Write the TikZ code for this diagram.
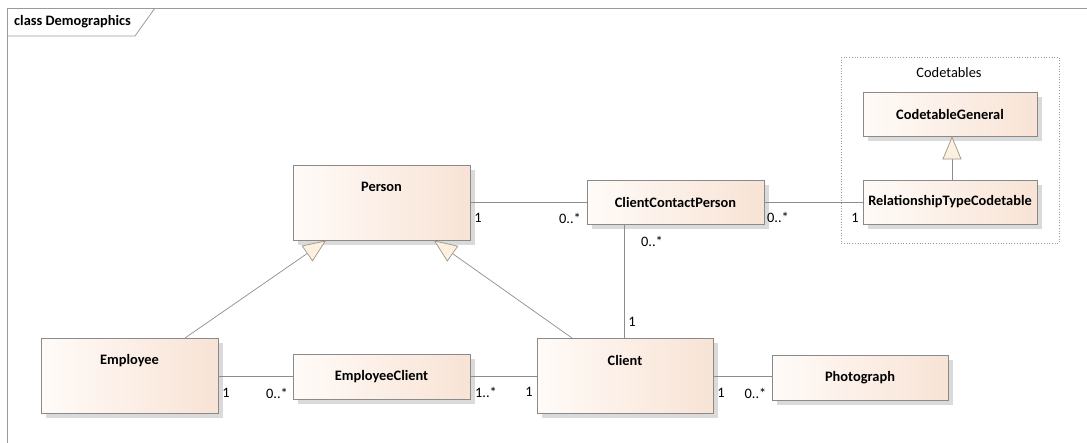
\documentclass[tikz,border=0pt]{standalone}
\usepackage{fontspec}
\setmainfont{Carlito}
\usetikzlibrary{shadows,arrows.meta}
\definecolor{frameg}{HTML}{9A9A9A}
\definecolor{lineg}{HTML}{8C8C8C}
\definecolor{boxb}{HTML}{8A8A8A}
\definecolor{peachL}{HTML}{FFFBF8}
\definecolor{peachR}{HTML}{F8E3D5}
\definecolor{shadc}{HTML}{DADADA}
\definecolor{trifill}{HTML}{FCF0E0}
\definecolor{tridraw}{HTML}{A09585}
\begin{document}
\begin{tikzpicture}[x=1pt,y=-1pt,
  cls/.style={draw=boxb, line width=0.8pt, left color=peachL, right color=peachR,
    drop shadow={shadow xshift=5pt, shadow yshift=-5pt, fill=shadc, opacity=1},
    inner sep=0pt, text=black},
  cname/.style={font=\bfseries\fontsize{14.4}{16}\selectfont, inner sep=0pt},
  mult/.style={font=\fontsize{14.4}{16}\selectfont, inner sep=0pt},
  conn/.style={draw=lineg, line width=0.7pt},
  gen/.style={conn, -{Triangle[length=23pt, width=19pt, fill=trifill, color=tridraw]}}
]
\useasboundingbox (0,0) rectangle (1087,442);
% frame
\draw[frameg, line width=0.8pt] (7,450) -- (7,8) -- (1095,8);
\draw[frameg, line width=0.8pt] (7,36) -- (135,36) -- (155,8);
\node[cname, anchor=west] (title) at (14,22) {class Demographics};
% codetables package
\draw[frameg, line width=0.7pt, dotted] (841,57) rectangle (1059,243);
\node[mult] (pkg) at (949,73) {Codetables};
% classes
\node[cls, minimum width=177pt, minimum height=75pt] (person) at (381.5,202.5) {};
\node[cname] (personT) at (381.5,187) {Person};
\node[cls, minimum width=177pt, minimum height=44pt] (ccp) at (675.5,202) {};
\node[cname] (ccpT) at (675.5,202) {ClientContactPerson};
\node[cls, minimum width=174pt, minimum height=44pt] (cg) at (950,114) {};
\node[cname] (cgT) at (950,114) {CodetableGeneral};
\node[cls, minimum width=174pt, minimum height=44pt] (rtc) at (950,202) {};
\node[cname] (rtcT) at (950,202) {RelationshipTypeCodetable};
\node[cls, minimum width=177pt, minimum height=75pt] (emp) at (129.5,375.5) {};
\node[cname] (empT) at (129.5,361) {Employee};
\node[cls, minimum width=177pt, minimum height=45pt] (ec) at (381.5,376.5) {};
\node[cname] (ecT) at (381.5,376.5) {EmployeeClient};
\node[cls, minimum width=176pt, minimum height=75pt] (client) at (625,375.5) {};
\node[cname] (clientT) at (625,360) {Client};
\node[cls, minimum width=176pt, minimum height=45pt] (photo) at (860,377.5) {};
\node[cname] (photoT) at (860,377.5) {Photograph};
% connector points
\coordinate (empTop) at (185,338);
\coordinate (pTip1) at (326,240.5);
\coordinate (clTop) at (572,338);
\coordinate (pTip2) at (434,240.5);
% generalizations
\draw[gen] (empTop) -- (pTip1);
\draw[gen] (clTop) -- (pTip2);
\draw[gen] (rtc.north -| 952,0) -- (cg.south -| 952,0);
% associations
\draw[conn] (person.east |- 0,202) -- (ccp.west |- 0,202);
\draw[conn] (ccp.east) -- (rtc.west);
\draw[conn] (ccp.south -| 624,0) -- (client.north -| 624,0);
\draw[conn] (emp.east |- 0,376) -- (ec.west |- 0,376);
\draw[conn] (ec.east |- 0,376) -- (client.west |- 0,376);
\draw[conn] (client.east |- 0,376) -- (photo.west |- 0,376);
% multiplicities
\node[mult] (m1) at (478,218) {1};
\node[mult] (m2) at (570,218) {0..*};
\node[mult] (m3) at (778,217) {0..*};
\node[mult] (m4) at (855,218) {1};
\node[mult] (m5) at (652,241) {0..*};
\node[mult] (m6) at (632,322) {1};
\node[mult] (m7) at (226,393) {1};
\node[mult] (m8) at (277,393) {0..*};
\node[mult] (m9) at (486,392) {1..*};
\node[mult] (m10) at (529,392) {1};
\node[mult] (m11) at (721,393) {1};
\node[mult] (m12) at (755.5,393) {0..*};
\end{tikzpicture}
\end{document}
